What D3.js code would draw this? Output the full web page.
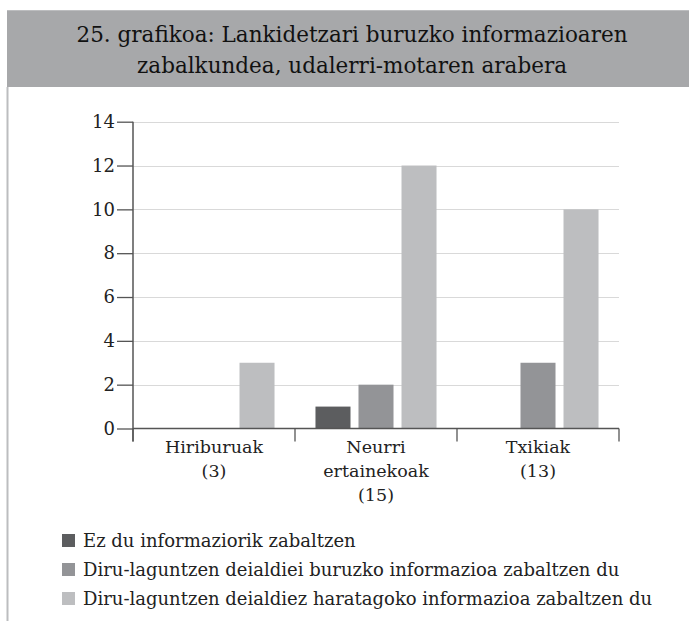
<!DOCTYPE html>
<html>
<head>
<meta charset="utf-8">
<script src="https://cdn.jsdelivr.net/npm/d3@7"></script>
<style>
  body { margin: 0; background: #fff; }
  svg { display: block; font-family: "DejaVu Serif", serif; }
  svg text { font-family: "DejaVu Serif", serif; }
</style>
</head>
<body>
<svg width="689" height="625"></svg>
<script>
'use strict';
var titleLines = ["25. grafikoa: Lankidetzari buruzko informazioaren",
                  "zabalkundea, udalerri-motaren arabera"];
var categories = ["Hiriburuak", "Neurri ertainekoak", "Txikiak"];
var categoryLabels = [["Hiriburuak", "(3)"], ["Neurri", "ertainekoak", "(15)"], ["Txikiak", "(13)"]];
var seriesNames = ["Ez du informaziorik zabaltzen",
                   "Diru-laguntzen deialdiei buruzko informazioa zabaltzen du",
                   "Diru-laguntzen deialdiez haratagoko informazioa zabaltzen du"];
var noInfo = [0, 1, 0];
var grantInfo = [0, 2, 3];
var beyondInfo = [3, 12, 10];
var yTicks = [0, 2, 4, 6, 8, 10, 12, 14];

var svg = d3.select("svg");
var colors = ["#5c5d5f", "#939497", "#bdbec0"];
var series = [noInfo, grantInfo, beyondInfo];

// frame: title band + left border
svg.append("rect").attr("x", 7).attr("y", 10).attr("width", 682).attr("height", 77).attr("fill", "#a7a8aa");
svg.append("line").attr("x1", 7).attr("x2", 689).attr("y1", 10.5).attr("y2", 10.5).attr("stroke", "#bcbdbf");
svg.append("line").attr("x1", 7.5).attr("x2", 7.5).attr("y1", 87).attr("y2", 621).attr("stroke", "#bcbdbf").attr("stroke-width", 2);

svg.append("text")
  .attr("x", 352).attr("text-anchor", "middle")
  .attr("font-size", 21.5).attr("fill", "#111")
  .selectAll("tspan").data(titleLines).enter().append("tspan")
    .attr("x", 352).attr("y", function(d, i) { return 42 + i * 31; })
    .text(function(d) { return d; });

var margin = {left: 133, top: 121.7, right: 619, bottom: 428.5};
var x0 = d3.scaleBand().domain(categories).range([margin.left, margin.right]).padding(0);
var x1 = d3.scaleBand().domain([0, 1, 2]).range([0, x0.bandwidth()]).paddingInner(0.186).paddingOuter(0.476);
var y = d3.scaleLinear().domain([0, 14]).range([margin.bottom, margin.top]);

var g = svg.append("g");

// gridlines
g.selectAll(".grid").data(yTicks.slice(1)).enter().append("line")
  .attr("x1", margin.left).attr("x2", margin.right)
  .attr("y1", function(d) { return Math.round(y(d)) + 0.5; })
  .attr("y2", function(d) { return Math.round(y(d)) + 0.5; })
  .attr("stroke", "#d9d9d9").attr("stroke-width", 1.2);

// bars
var rows = categories.map(function(c, i) {
  return series.map(function(s, k) { return {cat: c, k: k, v: s[i]}; });
});
g.selectAll(".grp").data(rows).enter().append("g")
  .attr("transform", function(d, i) { return "translate(" + x0(categories[i]) + ",0)"; })
  .selectAll("rect").data(function(d) { return d.filter(function(e) { return e.v > 0; }); })
  .enter().append("rect")
    .attr("x", function(d) { return x1(d.k); })
    .attr("width", x1.bandwidth())
    .attr("y", function(d) { return y(d.v); })
    .attr("height", function(d) { return y(0) - y(d.v); })
    .attr("fill", function(d) { return colors[d.k]; });

// y axis
var yAxis = g.append("g")
  .attr("transform", "translate(" + margin.left + ",0)")
  .call(d3.axisLeft(y).tickValues(yTicks).tickSize(16).tickPadding(2).tickFormat(d3.format("d")));
yAxis.attr("font-family", null);
yAxis.select(".domain").remove();
yAxis.selectAll(".tick line").attr("stroke", "#555").attr("stroke-width", 1.3);
yAxis.selectAll(".tick text").attr("font-size", 18).attr("fill", "#222");
g.append("line").attr("x1", margin.left).attr("x2", margin.left)
  .attr("y1", margin.top).attr("y2", margin.bottom + 13)
  .attr("stroke", "#555").attr("stroke-width", 1.5);

// x axis
g.append("line").attr("x1", margin.left).attr("x2", margin.right)
  .attr("y1", margin.bottom).attr("y2", margin.bottom)
  .attr("stroke", "#555").attr("stroke-width", 1.5);
var bounds = categories.map(function(c) { return x0(c); }).concat([margin.right]);
g.selectAll(".xtick").data(bounds).enter().append("line")
  .attr("x1", function(d) { return d; }).attr("x2", function(d) { return d; })
  .attr("y1", margin.bottom).attr("y2", margin.bottom + 13)
  .attr("stroke", "#555").attr("stroke-width", 1.3);

g.selectAll(".xlabel").data(categories).enter().append("text")
  .attr("text-anchor", "middle").attr("font-size", 17.5).attr("fill", "#222")
  .each(function(c, i) {
    d3.select(this).selectAll("tspan").data(categoryLabels[i]).enter().append("tspan")
      .attr("x", x0(c) + x0.bandwidth() / 2)
      .attr("y", function(d, j) { return 453 + j * 24; })
      .text(function(d) { return d; });
  });

// legend
var leg = svg.append("g").selectAll("g").data(seriesNames).enter().append("g")
  .attr("transform", function(d, i) { return "translate(62," + (534 + i * 29) + ")"; });
leg.append("rect").attr("width", 13).attr("height", 13)
  .attr("fill", function(d, i) { return colors[i]; });
leg.append("text").attr("x", 21).attr("y", 13).attr("font-size", 18).attr("fill", "#222")
  .text(function(d) { return d; });
</script>
</body>
</html>
